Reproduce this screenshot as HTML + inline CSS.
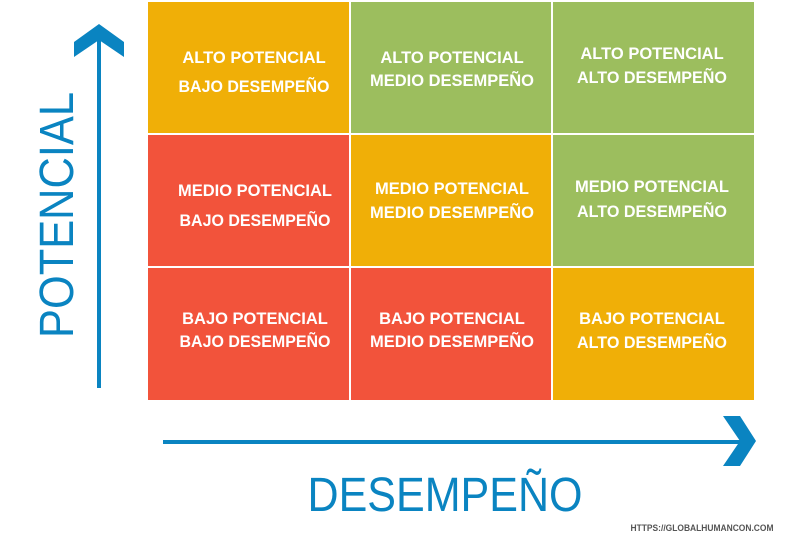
<!DOCTYPE html>
<html><head><meta charset="utf-8"><style>
html,body{margin:0;padding:0;background:#fff;}
svg{display:block;}
</style></head><body>
<svg width="804" height="536" viewBox="0 0 804 536" xmlns="http://www.w3.org/2000/svg">
<rect width="804" height="536" fill="#fff"/>
<rect x="148" y="2" width="201" height="131" fill="#F0AF07"/>
<rect x="351" y="2" width="200" height="131" fill="#9CBE5E"/>
<rect x="553" y="2" width="201" height="131" fill="#9CBE5E"/>
<rect x="148" y="135" width="201" height="131" fill="#F2533B"/>
<rect x="351" y="135" width="200" height="131" fill="#F0AF07"/>
<rect x="553" y="135" width="201" height="131" fill="#9CBE5E"/>
<rect x="148" y="268" width="201" height="132" fill="#F2533B"/>
<rect x="351" y="268" width="200" height="132" fill="#F2533B"/>
<rect x="553" y="268" width="201" height="132" fill="#F0AF07"/>
<g font-family="Liberation Sans, sans-serif" font-weight="bold" font-size="16.5" fill="#fff" text-anchor="middle">
<text x="254" y="63">ALTO POTENCIAL</text>
<text x="254" y="92" textLength="151" lengthAdjust="spacingAndGlyphs">BAJO DESEMPEÑO</text>
<text x="452" y="63">ALTO POTENCIAL</text>
<text x="452" y="86" textLength="164" lengthAdjust="spacingAndGlyphs">MEDIO DESEMPEÑO</text>
<text x="652" y="59">ALTO POTENCIAL</text>
<text x="652" y="83" textLength="150" lengthAdjust="spacingAndGlyphs">ALTO DESEMPEÑO</text>
<text x="255" y="196" textLength="154" lengthAdjust="spacingAndGlyphs">MEDIO POTENCIAL</text>
<text x="255" y="226" textLength="151" lengthAdjust="spacingAndGlyphs">BAJO DESEMPEÑO</text>
<text x="452" y="194" textLength="154" lengthAdjust="spacingAndGlyphs">MEDIO POTENCIAL</text>
<text x="452" y="218" textLength="164" lengthAdjust="spacingAndGlyphs">MEDIO DESEMPEÑO</text>
<text x="652" y="192" textLength="154" lengthAdjust="spacingAndGlyphs">MEDIO POTENCIAL</text>
<text x="652" y="217" textLength="150" lengthAdjust="spacingAndGlyphs">ALTO DESEMPEÑO</text>
<text x="255" y="324">BAJO POTENCIAL</text>
<text x="255" y="347" textLength="151" lengthAdjust="spacingAndGlyphs">BAJO DESEMPEÑO</text>
<text x="452" y="324">BAJO POTENCIAL</text>
<text x="452" y="347" textLength="164" lengthAdjust="spacingAndGlyphs">MEDIO DESEMPEÑO</text>
<text x="652" y="324">BAJO POTENCIAL</text>
<text x="652" y="348" textLength="150" lengthAdjust="spacingAndGlyphs">ALTO DESEMPEÑO</text>
</g>
<rect x="97" y="30" width="4" height="358" fill="#0A84C1"/>
<polygon points="74,42 99,24 124,42 124,57 99,40 74,57" fill="#0A84C1"/>
<rect x="163" y="440" width="585" height="4" fill="#0A84C1"/>
<polygon points="723,416 740,416 756,441 740,466 723,466 740,441" fill="#0A84C1"/>
<text transform="translate(73,215) rotate(-90)" text-anchor="middle" font-family="Liberation Sans, sans-serif" font-size="48" fill="#0A84C1" textLength="246" lengthAdjust="spacingAndGlyphs">POTENCIAL</text>
<text x="445" y="511" text-anchor="middle" font-family="Liberation Sans, sans-serif" font-size="48" fill="#0A84C1" textLength="275" lengthAdjust="spacingAndGlyphs">DESEMPEÑO</text>
<text x="702" y="531" text-anchor="middle" font-family="Liberation Sans, sans-serif" font-weight="bold" font-size="9" fill="#555" textLength="143" lengthAdjust="spacingAndGlyphs">HTTPS://GLOBALHUMANCON.COM</text>
</svg>
</body></html>
